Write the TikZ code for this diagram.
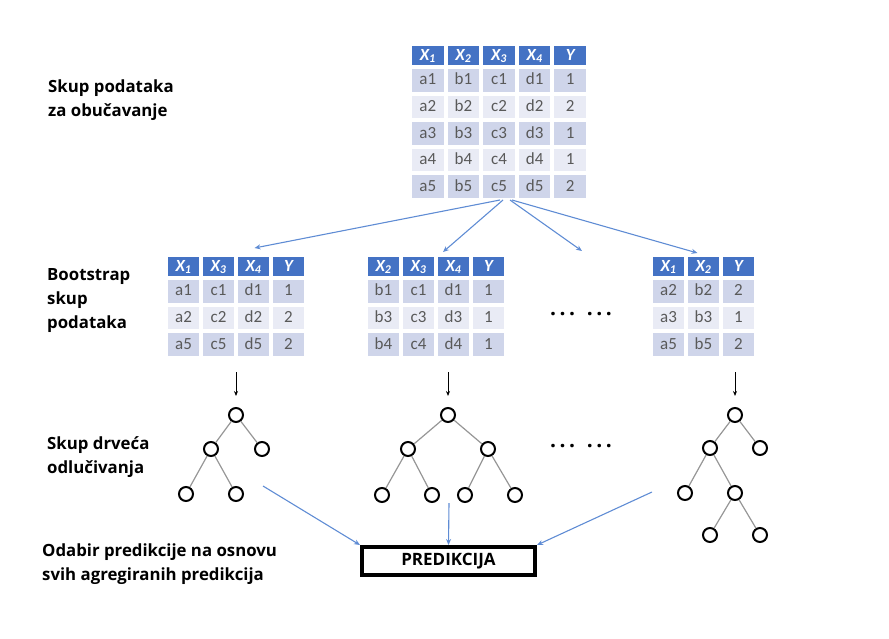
\documentclass[tikz,border=0pt]{standalone}
\usepackage{fontspec}
\setmainfont{Carlito}
\newfontfamily\labelfont{Open Sans}
\usetikzlibrary{matrix,arrows.meta}
\definecolor{hdrblue}{RGB}{68,114,196}
\definecolor{rowdark}{RGB}{207,213,234}
\definecolor{rowlight}{RGB}{233,235,245}
\definecolor{cellgray}{RGB}{89,89,89}
\definecolor{arrowblue}{RGB}{95,140,212}
\definecolor{edgegray}{RGB}{150,150,150}
\tikzset{
  tbl/.style={matrix of nodes, row sep=0pt, column sep=0pt, inner sep=0pt, outer sep=0pt,
    nodes={draw=white, line width=2pt, outer sep=0pt, inner sep=0pt,
      minimum width=33pt, minimum height=24.6pt, text height=11pt, text depth=2pt,
      font=\fontsize{17}{17}\selectfont, text=cellgray},
    row 1/.style={nodes={fill=hdrblue, text=white, minimum height=21pt,
      font=\fontsize{17}{17}\selectfont\bfseries\itshape}},
    row 2/.style={nodes={fill=rowdark}},
    row 3/.style={nodes={fill=rowlight}},
    row 4/.style={nodes={fill=rowdark}},
    row 5/.style={nodes={fill=rowlight}},
    row 6/.style={nodes={fill=rowdark}}},
  lbl/.style={anchor=north west, inner sep=0pt, align=left,
    font=\labelfont\bfseries\fontsize{16.8}{24}\selectfont},
  leaf/.style={circle, draw, line width=2pt, minimum size=14pt, inner sep=0pt},
  treeedge/.style={draw=edgegray, line width=1.2pt},
  bluearrow/.style={draw=arrowblue, line width=1.1pt, -{Stealth[length=6pt,width=5pt]}},
  downarrow/.style={line width=0.9pt, -{Stealth[length=5pt,width=4pt]}, shorten >=11pt},
  moredots/.style={inner sep=0pt, font=\labelfont\bfseries\fontsize{21}{21}\selectfont}
}
\begin{document}
\begin{tikzpicture}[x=1pt,y=-1pt]
  \useasboundingbox (0,0) rectangle (889,638);

  % text on the left
  \node[lbl] (trainlbl) at (48,80) {Skup podataka\\za obučavanje};
  \node[lbl] (bootlbl) at (47,268) {Bootstrap\\skup\\podataka};
  \node[lbl] (treelbl) at (47,436) {Skup drveća\\odlučivanja};
  \node[lbl] (predlbl) at (42,544) {Odabir predikcije na osnovu\\svih agregiranih predikcija};

  % tables
  \matrix (train) [tbl, nodes={minimum width=33.6pt}, anchor=north west] at (410,44) {
    X\textsubscript{1} & X\textsubscript{2} & X\textsubscript{3} & X\textsubscript{4} & Y \\
    a1 & b1 & c1 & d1 & 1 \\
    a2 & b2 & c2 & d2 & 2 \\
    a3 & b3 & c3 & d3 & 1 \\
    a4 & b4 & c4 & d4 & 1 \\
    a5 & b5 & c5 & d5 & 2 \\
  };
  \matrix (boot1) [tbl, anchor=north west] at (166,255) {
    X\textsubscript{1} & X\textsubscript{3} & X\textsubscript{4} & Y \\
    a1 & c1 & d1 & 1 \\
    a2 & c2 & d2 & 2 \\
    a5 & c5 & d5 & 2 \\
  };
  \matrix (boot2) [tbl, anchor=north west] at (366,255) {
    X\textsubscript{2} & X\textsubscript{3} & X\textsubscript{4} & Y \\
    b1 & c1 & d1 & 1 \\
    b3 & c3 & d3 & 1 \\
    b4 & c4 & d4 & 1 \\
  };
  \matrix (boot3) [tbl, anchor=north west] at (651,255) {
    X\textsubscript{1} & X\textsubscript{2} & Y \\
    a2 & b2 & 2 \\
    a3 & b3 & 1 \\
    a5 & b5 & 2 \\
  };
  \coordinate (more) at (582,251);
  \draw[bluearrow] ([xshift=1pt]train.south) -- ([xshift=1pt,yshift=8pt]boot1-1-3.north);
  \draw[bluearrow] ([xshift=4pt]train.south) -- ([xshift=8pt,yshift=4pt]boot2-1-2.north east);
  \draw[bluearrow] ([xshift=11pt]train.south) -- (more);
  \draw[bluearrow] ([xshift=13pt]train.south) -- ([xshift=-6pt,yshift=3pt]boot3-1-2.north);
  \node[moredots] (dots1) at (581,314) {.\,.\,.\;\;.\,.\,.};

  % trees
  \draw
    (236,415) node[leaf] (t1r){}
    (211,449) node[leaf] (t1a){}
    (262,449) node[leaf] (t1b){}
    (186,494) node[leaf] (t1c){}
    (236,494) node[leaf] (t1d){};
  \draw
    (448,415) node[leaf] (t2r){}
    (408,449) node[leaf] (t2a){}
    (488,449) node[leaf] (t2b){}
    (382,495) node[leaf] (t2c){}
    (432,495) node[leaf] (t2d){}
    (465,495) node[leaf] (t2e){}
    (515,495) node[leaf] (t2f){};
  \begin{scope}
    \clip (600,380) rectangle (768,560);
    \draw
      (735,415) node[leaf] (t3r){}
      (710,448) node[leaf] (t3a){}
      (760,448) node[leaf] (t3b){}
      (685,493) node[leaf] (t3c){}
      (735,493) node[leaf] (t3d){}
      (710,535) node[leaf] (t3e){}
      (760,535) node[leaf] (t3f){};
    \begin{scope}[treeedge]
      \draw (t3r) to (t3a);
      \draw (t3r) to (t3b);
      \draw (t3a) to (t3c);
      \draw (t3a) to (t3d);
      \draw (t3d) to (t3e);
      \draw (t3d) to (t3f);
    \end{scope}
  \end{scope}
  \begin{scope}[treeedge]
    \draw (t1r) to (t1a);
    \draw (t1r) to (t1b);
    \draw (t1a) to (t1c);
    \draw (t1a) to (t1d);
    \draw (t2r) to (t2a);
    \draw (t2r) to (t2b);
    \draw (t2a) to (t2c);
    \draw (t2a) to (t2d);
    \draw (t2b) to (t2e);
    \draw (t2b) to (t2f);
  \end{scope}
  \node[moredots] (dots2) at (581,446) {.\,.\,.\;\;.\,.\,.};

  % from bootstrap sets to trees
  \coordinate (down1) at (236,372);
  \coordinate (down2) at (448,372);
  \coordinate (down3) at (735,372);
  \draw[downarrow] (down1) -- (t1r);
  \draw[downarrow] (down2) -- (t2r);
  \draw[downarrow] (down3) -- (t3r);

  % voting
  \node[draw, line width=4pt, minimum width=173pt, minimum height=28pt, inner sep=0pt,
    font=\labelfont\bfseries\fontsize{17}{17}\selectfont] (pred) at (448.5,561) {PREDIKCIJA};
  \coordinate (vote1) at (263,486);
  \coordinate (vote2) at (449,503);
  \coordinate (vote3) at (652,492);
  \draw[bluearrow] (vote1) -- (pred.north west);
  \draw[bluearrow] (vote2) -- (pred.north);
  \draw[bluearrow] (vote3) -- (pred.north east);
\end{tikzpicture}
\end{document}
